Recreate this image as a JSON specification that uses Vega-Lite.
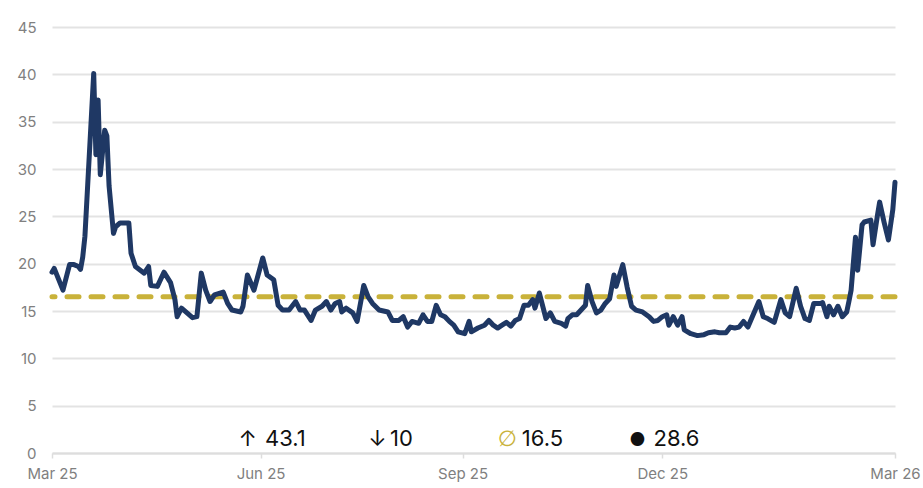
{
  "$schema": "https://vega.github.io/schema/vega-lite/v6.json",
  "autosize": {"type": "none"},
  "padding": {"left": 52, "top": 27, "right": 28, "bottom": 35},
  "width": 843,
  "height": 426,
  "background": "#ffffff",
  "config": {"view": {"stroke": null}, "font": "Inter"},
  "datasets": {
    "series": [
      {"date": "2025-02-26", "v": 19.1}, {"date": "2025-02-27", "v": 19.5}, {"date": "2025-03-03", "v": 17.2},
      {"date": "2025-03-06", "v": 19.9}, {"date": "2025-03-08", "v": 19.9}, {"date": "2025-03-10", "v": 19.7},
      {"date": "2025-03-11", "v": 19.4}, {"date": "2025-03-12", "v": 20.7}, {"date": "2025-03-13", "v": 22.9},
      {"date": "2025-03-17", "v": 40.1}, {"date": "2025-03-18", "v": 31.5}, {"date": "2025-03-19", "v": 37.3},
      {"date": "2025-03-20", "v": 29.4}, {"date": "2025-03-22", "v": 34.1}, {"date": "2025-03-23", "v": 33.5},
      {"date": "2025-03-24", "v": 28.2}, {"date": "2025-03-26", "v": 23.2}, {"date": "2025-03-27", "v": 23.9},
      {"date": "2025-03-29", "v": 24.3}, {"date": "2025-04-02", "v": 24.3}, {"date": "2025-04-03", "v": 21.1},
      {"date": "2025-04-05", "v": 19.7}, {"date": "2025-04-09", "v": 19.0}, {"date": "2025-04-11", "v": 19.7},
      {"date": "2025-04-12", "v": 17.7}, {"date": "2025-04-15", "v": 17.6}, {"date": "2025-04-18", "v": 19.1},
      {"date": "2025-04-21", "v": 18.0}, {"date": "2025-04-23", "v": 16.2}, {"date": "2025-04-24", "v": 14.4},
      {"date": "2025-04-26", "v": 15.3}, {"date": "2025-05-01", "v": 14.3}, {"date": "2025-05-03", "v": 14.4},
      {"date": "2025-05-05", "v": 19.0}, {"date": "2025-05-07", "v": 17.2}, {"date": "2025-05-09", "v": 16.0},
      {"date": "2025-05-11", "v": 16.7}, {"date": "2025-05-15", "v": 17.0}, {"date": "2025-05-17", "v": 15.8},
      {"date": "2025-05-19", "v": 15.1}, {"date": "2025-05-23", "v": 14.9}, {"date": "2025-05-24", "v": 15.5},
      {"date": "2025-05-26", "v": 18.8}, {"date": "2025-05-29", "v": 17.2}, {"date": "2025-06-02", "v": 20.6},
      {"date": "2025-06-04", "v": 18.8}, {"date": "2025-06-07", "v": 18.3}, {"date": "2025-06-09", "v": 15.6},
      {"date": "2025-06-11", "v": 15.1}, {"date": "2025-06-14", "v": 15.1}, {"date": "2025-06-17", "v": 16.0},
      {"date": "2025-06-19", "v": 15.1}, {"date": "2025-06-21", "v": 15.1}, {"date": "2025-06-24", "v": 14.0},
      {"date": "2025-06-26", "v": 15.1}, {"date": "2025-06-29", "v": 15.5}, {"date": "2025-07-01", "v": 16.0},
      {"date": "2025-07-03", "v": 15.1}, {"date": "2025-07-05", "v": 15.8}, {"date": "2025-07-07", "v": 16.0},
      {"date": "2025-07-08", "v": 14.9}, {"date": "2025-07-10", "v": 15.3}, {"date": "2025-07-13", "v": 14.8},
      {"date": "2025-07-15", "v": 13.9}, {"date": "2025-07-18", "v": 17.7}, {"date": "2025-07-20", "v": 16.5},
      {"date": "2025-07-22", "v": 15.8}, {"date": "2025-07-25", "v": 15.1}, {"date": "2025-07-29", "v": 14.9},
      {"date": "2025-07-31", "v": 14.0}, {"date": "2025-08-03", "v": 14.0}, {"date": "2025-08-05", "v": 14.4},
      {"date": "2025-08-07", "v": 13.3}, {"date": "2025-08-09", "v": 13.9}, {"date": "2025-08-12", "v": 13.7},
      {"date": "2025-08-14", "v": 14.6}, {"date": "2025-08-16", "v": 13.9}, {"date": "2025-08-18", "v": 13.9},
      {"date": "2025-08-20", "v": 15.6}, {"date": "2025-08-22", "v": 14.6}, {"date": "2025-08-24", "v": 14.4},
      {"date": "2025-08-26", "v": 13.9}, {"date": "2025-08-28", "v": 13.5}, {"date": "2025-08-30", "v": 12.8},
      {"date": "2025-09-02", "v": 12.6}, {"date": "2025-09-04", "v": 13.9}, {"date": "2025-09-05", "v": 12.8},
      {"date": "2025-09-08", "v": 13.2}, {"date": "2025-09-11", "v": 13.5}, {"date": "2025-09-13", "v": 14.0},
      {"date": "2025-09-15", "v": 13.5}, {"date": "2025-09-17", "v": 13.2}, {"date": "2025-09-19", "v": 13.5},
      {"date": "2025-09-21", "v": 13.8}, {"date": "2025-09-23", "v": 13.4}, {"date": "2025-09-25", "v": 14.0},
      {"date": "2025-09-27", "v": 14.2}, {"date": "2025-09-29", "v": 15.6}, {"date": "2025-10-01", "v": 15.6},
      {"date": "2025-10-03", "v": 16.2}, {"date": "2025-10-04", "v": 15.3}, {"date": "2025-10-06", "v": 16.9},
      {"date": "2025-10-08", "v": 15.1}, {"date": "2025-10-09", "v": 14.2}, {"date": "2025-10-11", "v": 14.8},
      {"date": "2025-10-13", "v": 13.9}, {"date": "2025-10-16", "v": 13.7}, {"date": "2025-10-18", "v": 13.4},
      {"date": "2025-10-19", "v": 14.2}, {"date": "2025-10-21", "v": 14.6}, {"date": "2025-10-23", "v": 14.6},
      {"date": "2025-10-25", "v": 15.1}, {"date": "2025-10-27", "v": 15.6}, {"date": "2025-10-28", "v": 17.7},
      {"date": "2025-10-30", "v": 16.0}, {"date": "2025-11-01", "v": 14.8}, {"date": "2025-11-03", "v": 15.1},
      {"date": "2025-11-05", "v": 15.8}, {"date": "2025-11-07", "v": 16.3}, {"date": "2025-11-09", "v": 18.8},
      {"date": "2025-11-10", "v": 17.6}, {"date": "2025-11-13", "v": 19.9}, {"date": "2025-11-15", "v": 17.5},
      {"date": "2025-11-17", "v": 15.5}, {"date": "2025-11-19", "v": 15.1}, {"date": "2025-11-22", "v": 14.9},
      {"date": "2025-11-25", "v": 14.4}, {"date": "2025-11-27", "v": 13.9}, {"date": "2025-11-29", "v": 14.0},
      {"date": "2025-12-01", "v": 14.4}, {"date": "2025-12-03", "v": 14.6}, {"date": "2025-12-04", "v": 13.5},
      {"date": "2025-12-06", "v": 14.4}, {"date": "2025-12-08", "v": 13.5}, {"date": "2025-12-10", "v": 14.4},
      {"date": "2025-12-11", "v": 13.0}, {"date": "2025-12-14", "v": 12.6}, {"date": "2025-12-17", "v": 12.4},
      {"date": "2025-12-20", "v": 12.5}, {"date": "2025-12-22", "v": 12.7}, {"date": "2025-12-25", "v": 12.8},
      {"date": "2025-12-27", "v": 12.7}, {"date": "2025-12-30", "v": 12.7}, {"date": "2026-01-01", "v": 13.3},
      {"date": "2026-01-03", "v": 13.2}, {"date": "2026-01-05", "v": 13.3}, {"date": "2026-01-07", "v": 13.9},
      {"date": "2026-01-09", "v": 13.3}, {"date": "2026-01-11", "v": 14.4}, {"date": "2026-01-14", "v": 16.0},
      {"date": "2026-01-16", "v": 14.4}, {"date": "2026-01-18", "v": 14.2}, {"date": "2026-01-21", "v": 13.8},
      {"date": "2026-01-24", "v": 16.2}, {"date": "2026-01-26", "v": 14.8}, {"date": "2026-01-28", "v": 14.4},
      {"date": "2026-01-31", "v": 17.4}, {"date": "2026-02-02", "v": 15.5}, {"date": "2026-02-04", "v": 14.2},
      {"date": "2026-02-06", "v": 14.0}, {"date": "2026-02-08", "v": 15.8}, {"date": "2026-02-11", "v": 15.8},
      {"date": "2026-02-12", "v": 15.9}, {"date": "2026-02-14", "v": 14.4}, {"date": "2026-02-15", "v": 15.5},
      {"date": "2026-02-17", "v": 14.6}, {"date": "2026-02-19", "v": 15.5}, {"date": "2026-02-21", "v": 14.4},
      {"date": "2026-02-23", "v": 14.9}, {"date": "2026-02-24", "v": 16.0}, {"date": "2026-02-25", "v": 17.2},
      {"date": "2026-02-27", "v": 22.8}, {"date": "2026-02-28", "v": 19.3}, {"date": "2026-03-02", "v": 24.1},
      {"date": "2026-03-03", "v": 24.4}, {"date": "2026-03-06", "v": 24.6}, {"date": "2026-03-07", "v": 22.0},
      {"date": "2026-03-09", "v": 25.1}, {"date": "2026-03-10", "v": 26.5}, {"date": "2026-03-12", "v": 24.4},
      {"date": "2026-03-14", "v": 22.5}, {"date": "2026-03-16", "v": 25.7}, {"date": "2026-03-17", "v": 28.6}
    ],
    "stats": [
      {"stat": "max", "symbol": "↑", "value": 43.1, "label": "43.1"},
      {"stat": "min", "symbol": "↓", "value": 10, "label": "10"},
      {"stat": "mean", "symbol": "∅", "value": 16.5, "label": "16.5"},
      {"stat": "last", "symbol": "●", "value": 28.6, "label": "28.6"}
    ]
  },
  "encoding": {
    "x": {
      "type": "temporal",
      "scale": {
        "type": "utc",
        "domain": [
          {"year": 2025, "month": 2, "date": 26, "utc": true},
          {"year": 2026, "month": 3, "date": 17, "utc": true}
        ],
        "nice": false
      },
      "axis": {
        "title": null,
        "grid": false,
        "domain": true,
        "domainColor": "#dddddd",
        "domainWidth": 2,
        "ticks": true,
        "tickColor": "#dddddd",
        "tickWidth": 1.5,
        "tickSize": 5,
        "labelPadding": 8,
        "labelFont": "Inter",
        "labelFontSize": 15,
        "labelColor": "#808080",
        "labelFlush": false,
        "labelOverlap": false,
        "labelBound": false,
        "values": [
          {"year": 2025, "month": 2, "date": 26, "utc": true},
          {"year": 2025, "month": 6, "date": 1, "utc": true},
          {"year": 2025, "month": 9, "date": 1, "utc": true},
          {"year": 2025, "month": 12, "date": 1, "utc": true},
          {"year": 2026, "month": 3, "date": 17, "utc": true}
        ],
        "labelExpr": "datum.index === 0 ? 'Mar 25' : utcFormat(datum.value, '%b %y')"
      }
    },
    "y": {
      "type": "quantitative",
      "scale": {"domain": [0, 45], "nice": false},
      "axis": {
        "title": null,
        "values": [0, 5, 10, 15, 20, 25, 30, 35, 40, 45],
        "grid": true,
        "gridColor": "#e3e3e3",
        "gridWidth": 2,
        "domain": false,
        "ticks": false,
        "labelPadding": 16,
        "labelFont": "Inter",
        "labelFontSize": 15,
        "labelColor": "#808080"
      }
    }
  },
  "layer": [
    {
      "data": {"name": "stats"},
      "transform": [{"filter": "datum.stat === 'mean'"}],
      "mark": {"type": "rule", "color": "#c9b23a", "strokeWidth": 5, "strokeDash": [12, 12], "strokeCap": "round"},
      "encoding": {"x": null, "y": {"field": "value", "type": "quantitative"}}
    },
    {
      "data": {"name": "series"},
      "mark": {"type": "line", "color": "#1f3864", "strokeWidth": 5, "strokeJoin": "round", "strokeCap": "round"},
      "encoding": {
        "x": {"field": "date", "type": "temporal"},
        "y": {"field": "v", "type": "quantitative"}
      }
    },
    {
      "data": {"name": "stats"},
      "transform": [{"filter": "datum.stat === 'max'"}],
      "mark": {"type": "text", "align": "left", "baseline": "alphabetic", "fontSize": 22, "font": "Inter", "color": "#111111"},
      "encoding": {"x": {"datum": {"year": 2025, "month": 5, "date": 22, "utc": true}, "type": "temporal"}, "y": {"datum": 0.75, "type": "quantitative"}, "text": {"field": "symbol"}}
    },
    {
      "data": {"name": "stats"},
      "transform": [{"filter": "datum.stat === 'max'"}],
      "mark": {"type": "text", "align": "left", "baseline": "alphabetic", "fontSize": 22, "font": "Inter", "color": "#111111"},
      "encoding": {"x": {"datum": {"year": 2025, "month": 6, "date": 3, "utc": true}, "type": "temporal"}, "y": {"datum": 0.75, "type": "quantitative"}, "text": {"field": "label"}}
    },
    {
      "data": {"name": "stats"},
      "transform": [{"filter": "datum.stat === 'min'"}],
      "mark": {"type": "text", "align": "left", "baseline": "alphabetic", "fontSize": 22, "font": "Inter", "color": "#111111"},
      "encoding": {"x": {"datum": {"year": 2025, "month": 7, "date": 20, "utc": true}, "type": "temporal"}, "y": {"datum": 0.75, "type": "quantitative"}, "text": {"field": "symbol"}}
    },
    {
      "data": {"name": "stats"},
      "transform": [{"filter": "datum.stat === 'min'"}],
      "mark": {"type": "text", "align": "left", "baseline": "alphabetic", "fontSize": 22, "font": "Inter", "color": "#111111"},
      "encoding": {"x": {"datum": {"year": 2025, "month": 7, "date": 30, "utc": true}, "type": "temporal"}, "y": {"datum": 0.75, "type": "quantitative"}, "text": {"field": "label"}}
    },
    {
      "data": {"name": "stats"},
      "transform": [{"filter": "datum.stat === 'mean'"}],
      "mark": {"type": "text", "align": "left", "baseline": "alphabetic", "fontSize": 22, "font": "DejaVu Sans", "color": "#c9b23a"},
      "encoding": {"x": {"datum": {"year": 2025, "month": 9, "date": 17, "utc": true}, "type": "temporal"}, "y": {"datum": 0.75, "type": "quantitative"}, "text": {"field": "symbol"}}
    },
    {
      "data": {"name": "stats"},
      "transform": [{"filter": "datum.stat === 'mean'"}],
      "mark": {"type": "text", "align": "left", "baseline": "alphabetic", "fontSize": 22, "font": "Inter", "color": "#111111"},
      "encoding": {"x": {"datum": {"year": 2025, "month": 9, "date": 28, "utc": true}, "type": "temporal"}, "y": {"datum": 0.75, "type": "quantitative"}, "text": {"field": "label"}}
    },
    {
      "data": {"name": "stats"},
      "transform": [{"filter": "datum.stat === 'last'"}],
      "mark": {"type": "text", "align": "left", "baseline": "alphabetic", "fontSize": 18, "font": "Inter", "color": "#111111"},
      "encoding": {"x": {"datum": {"year": 2025, "month": 11, "date": 16, "utc": true}, "type": "temporal"}, "y": {"datum": 0.75, "type": "quantitative"}, "text": {"field": "symbol"}}
    },
    {
      "data": {"name": "stats"},
      "transform": [{"filter": "datum.stat === 'last'"}],
      "mark": {"type": "text", "align": "left", "baseline": "alphabetic", "fontSize": 22, "font": "Inter", "color": "#111111"},
      "encoding": {"x": {"datum": {"year": 2025, "month": 11, "date": 27, "utc": true}, "type": "temporal"}, "y": {"datum": 0.75, "type": "quantitative"}, "text": {"field": "label"}}
    }
  ]
}
